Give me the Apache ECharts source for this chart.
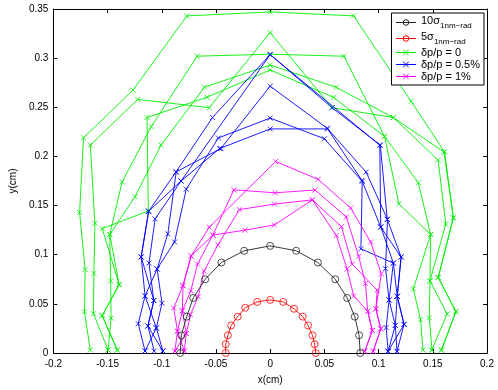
<!DOCTYPE html>
<html>
<head>
<meta charset="utf-8">
<script src="https://cdn.jsdelivr.net/npm/echarts@6/dist/echarts.min.js"></script>
<style>
  html, body { margin: 0; padding: 0; background: #fff; }
  #chart { width: 498px; height: 390px; }
</style>
</head>
<body>
<div id="chart"></div>
<script>
// tick labels
var xTicks = [-0.2, -0.15, -0.1, -0.05, 0, 0.05, 0.1, 0.15, 0.2];
var yTicks = [0, 0.05, 0.1, 0.15, 0.2, 0.25, 0.3, 0.35];

// 10 sigma and 5 sigma beam ellipses
var sigma10 = [[-0.083,0],[-0.082,0.018],[-0.077,0.037],[-0.071,0.056],[-0.060,0.075],[-0.045,0.092],[-0.024,0.104],
  [0,0.109],[0.024,0.104],[0.044,0.092],[0.060,0.075],[0.071,0.056],[0.078,0.037],[0.082,0.018],[0.083,0]];
var sigma5 = [[-0.041,0],[-0.041,0.009],[-0.039,0.018],[-0.036,0.028],[-0.030,0.037],[-0.023,0.046],[-0.012,0.052],
  [0,0.054],[0.012,0.052],[0.022,0.045],[0.030,0.037],[0.035,0.028],[0.039,0.018],[0.041,0.009],[0.042,0]];

// dp/p = 0 (one array per seed)
var green1 = [[-0.166,0.003],[-0.1713,0.042],[-0.1707,0.085],[-0.1758,0.143],[-0.1722,0.219],[-0.1265,0.2675],[-0.0768,0.343],
  [0,0.347],[0.077,0.343],[0.13,0.256],[0.1608,0.2048],[0.169,0.1375],[0.155,0.0769],[0.1713,0.0421],[0.158,0.003]];
var green2 = [[-0.1495,0.003],[-0.163,0.040],[-0.1626,0.081],[-0.1617,0.132],[-0.1659,0.2115],[-0.1222,0.258],[-0.0562,0.2496],
  [0,0.326],[0.057,0.2496],[0.1136,0.2396],[0.1549,0.1962],[0.162,0.1313],[0.1474,0.0733],[0.1632,0.0398],[0.149,0.003]];
var green3 = [[-0.141,0.003],[-0.155,0.038],[-0.1393,0.0696],[-0.1549,0.1266],[-0.1124,0.1445],[-0.1136,0.2396],[-0.0583,0.2602],
  [0,0.288],[0.0586,0.26],[0.1055,0.2204],[0.1366,0.1733],[0.148,0.1206],[0.132,0.0653],[0.1387,0.034],[0.141,0.003]];
var green4 = [[-0.1495,0.003],[-0.1468,0.0355],[-0.1471,0.0733],[-0.148,0.1206],[-0.1366,0.174],[-0.1097,0.2304],[-0.0673,0.302],
  [0,0.304],[0.068,0.302],[0.1055,0.2204],[0.1187,0.1518],[0.148,0.1206],[0.1474,0.0733],[0.1468,0.0358],[0.1492,0.003]];
var green5 = [[-0.1411,0.003],[-0.1549,0.038],[-0.1393,0.0696],[-0.148,0.1206],[-0.1247,0.159],[-0.1007,0.2115],[-0.0607,0.2704],
  [0,0.293],[0.0607,0.2704],[0.1136,0.2396],[0.1603,0.2045],[0.169,0.1375],[0.155,0.0769],[0.1713,0.0421],[0.158,0.003]];

// dp/p = 0.5%
var blue1 = [[-0.1154,0.002],[-0.1217,0.0298],[-0.1154,0.058],[-0.119,0.0977],[-0.1121,0.1442],[-0.087,0.184],[-0.0532,0.2396],
  [0,0.3036],[0.057,0.2496],[0.1016,0.2115],[0.108,0.136],[0.1208,0.0977],[0.1172,0.0577],[0.1235,0.0291],[0.117,0.0017]];
var blue2 = [[-0.107,0.002],[-0.1128,0.0275],[-0.1073,0.0534],[-0.1118,0.0915],[-0.1061,0.1365],[-0.0822,0.175],
  [0,0.3036],[0.1011,0.2115],[0.102,0.1283],[0.1136,0.0915],[0.1097,0.054],[0.1154,0.0281],[0.1088,0.0017]];
var blue3 = [[-0.099,0.002],[-0.105,0.0255],[-0.0998,0.0507],[-0.1043,0.0855],[-0.0944,0.1213],[-0.0867,0.1843],[-0.0455,0.208],
  [0,0.2715],[0.0526,0.2287],[0.0885,0.184],[0.1082,0.136],[0.1064,0.0858],[0.1097,0.054],[0.107,0.0259],[0.1088,0.0017]];
var blue4 = [[-0.1154,0.002],[-0.105,0.0255],[-0.1154,0.058],[-0.1043,0.0855],[-0.0882,0.113],[-0.0774,0.1667],[-0.0478,0.2188],
  [0,0.239],[0.050,0.218],[0.0849,0.1747],[0.0837,0.106],[0.1136,0.0915],[0.1172,0.0577],[0.1154,0.0281],[0.117,0.0017]];
var blue5 = [[-0.099,0.002],[-0.1128,0.0275],[-0.1073,0.0534],[-0.119,0.0977],[-0.1121,0.1442],[-0.0822,0.175],[-0.0466,0.208],
  [0,0.228],[0.053,0.228],[0.0846,0.1757],[0.102,0.128],[0.1208,0.0977],[0.1172,0.0577],[0.1235,0.0291],[0.1088,0.0017]];

// dp/p = 1%
var magenta1 = [[-0.0879,0.002],[-0.0855,0.0222],[-0.089,0.0457],[-0.0804,0.0686],[-0.0729,0.0987],[-0.0562,0.128],
  [0.005,0.1949],[0.0442,0.1767],[0.0742,0.1475],[0.0927,0.113],[0.1025,0.0805],[0.0975,0.045],[0.102,0.0246],[0.095,0.0017]];
var magenta2 = [[-0.0792,0.002],[-0.0774,0.0199],[-0.081,0.0428],[-0.0732,0.0633],[-0.067,0.0905],[-0.0529,0.12],[-0.0335,0.166],
  [0.0045,0.163],[0.0413,0.1658],[0.0702,0.1385],[0.0816,0.0984],[0.0879,0.0706],[0.09,0.0424],[0.0942,0.0229],[0.0873,0.0017]];
var magenta3 = [[-0.0879,0.002],[-0.0774,0.0199],[-0.0735,0.039],[-0.0664,0.0574],[-0.061,0.0832],[-0.0482,0.11],[-0.0284,0.1459],
  [0.0039,0.1515],[0.0389,0.1558],[0.0657,0.1286],[0.0756,0.0905],[0.0987,0.0639],[0.0975,0.045],[0.102,0.0246],[0.095,0.0017]];
var magenta4 = [[-0.0792,0.002],[-0.0855,0.0222],[-0.081,0.0428],[-0.0804,0.0686],[-0.0729,0.0987],[-0.0529,0.12],[-0.0233,0.125],
  [0.0039,0.1303],[0.0389,0.1558],[0.061,0.1196],[0.0709,0.0855],[0.0771,0.058],[0.09,0.0424],[0.0942,0.0229],[0.0873,0.0017]];

var CROSS = 'path://M0,0L10,10M0,10L10,0';

var legendText = {
  'sig10': '{m|10σ}{s|1nm−rad}',
  'sig5': '{m|5σ}{s|1nm−rad}',
  'dp0': '{m|δp/p = 0}',
  'dp05': '{m|δp/p = 0.5%}',
  'dp1': '{m|δp/p = 1%}'
};

function mkSeries(name, data, color, symbol, size) {
  var hollow = symbol === 'circle';
  return {
    name: name,
    type: 'line',
    data: data,
    symbol: symbol,
    symbolSize: size,
    showSymbol: true,
    lineStyle: { color: color, width: 0.9 },
    itemStyle: { color: hollow ? 'rgba(0,0,0,0)' : color, borderColor: color, borderWidth: 0.8 },
    emphasis: { disabled: true },
    animation: false
  };
}

var series = [];
[green1, green2, green3, green4, green5].forEach(function(d){ series.push(mkSeries('dp0', d, '#00ee00', CROSS, 5)); });
[blue1, blue2, blue3, blue4, blue5].forEach(function(d){ series.push(mkSeries('dp05', d, '#0000ff', CROSS, 5)); });
[magenta1, magenta2, magenta3, magenta4].forEach(function(d){ series.push(mkSeries('dp1', d, '#ff00ff', CROSS, 5)); });
series.push(mkSeries('sig10', sigma10, '#222222', 'circle', 7));
series.push(mkSeries('sig5', sigma5, '#ff0000', 'circle', 7));

function fmt(v) { return String(+v.toFixed(2)); }

var font = 'Liberation Sans, Arial, Helvetica, sans-serif';

var chart = echarts.init(document.getElementById('chart'));
chart.setOption({
  backgroundColor: '#fff',
  textStyle: { fontFamily: font },
  grid: { left: 41, right: 11, top: 9, bottom: 29, containLabel: false },
  legend: {
    data: ['sig10', 'sig5', 'dp0', 'dp05', 'dp1'],
    orient: 'vertical',
    right: 14,
    top: 13,
    backgroundColor: '#fff',
    borderColor: '#000',
    borderWidth: 1,
    borderRadius: 0,
    padding: [2, 4, 3, 4],
    itemGap: 1,
    itemWidth: 20,
    itemHeight: 7,
    selectedMode: false,
    lineStyle: { width: 1 },
    itemStyle: { borderWidth: 1 },
    formatter: function(name){ return legendText[name]; },
    textStyle: {
      color: '#000',
      fontFamily: font,
      rich: {
        m: { fontSize: 11, color: '#000', fontFamily: font, verticalAlign: 'top' },
        s: { fontSize: 8, color: '#000', fontFamily: font, verticalAlign: 'bottom', padding: [7, 0, 0, 0] }
      }
    }
  },
  xAxis: [{
    type: 'value', min: xTicks[0], max: xTicks[xTicks.length - 1], interval: 0.05,
    position: 'bottom',
    name: 'x(cm)', nameLocation: 'middle', nameGap: 22,
    nameTextStyle: { color: '#000', fontSize: 10, fontFamily: font },
    axisLine: { show: true, onZero: false, lineStyle: { color: '#000', width: 1 } },
    axisTick: { show: true, inside: true, length: 4, lineStyle: { color: '#000' } },
    axisLabel: { color: '#000', fontSize: 10, margin: 6, formatter: fmt },
    splitLine: { show: false }
  }, {
    type: 'value', min: xTicks[0], max: xTicks[xTicks.length - 1], interval: 0.05,
    position: 'top',
    axisLine: { show: true, onZero: false, lineStyle: { color: '#000', width: 1 } },
    axisTick: { show: true, inside: true, length: 4, lineStyle: { color: '#000' } },
    axisLabel: { show: false },
    splitLine: { show: false }
  }],
  yAxis: [{
    type: 'value', min: yTicks[0], max: yTicks[yTicks.length - 1], interval: 0.05,
    position: 'left',
    name: 'y(cm)', nameLocation: 'middle', nameGap: 33,
    nameTextStyle: { color: '#000', fontSize: 10, fontFamily: font },
    axisLine: { show: true, onZero: false, lineStyle: { color: '#000', width: 1 } },
    axisTick: { show: true, inside: true, length: 4, lineStyle: { color: '#000' } },
    axisLabel: { color: '#000', fontSize: 10, margin: 5, formatter: fmt },
    splitLine: { show: false }
  }, {
    type: 'value', min: yTicks[0], max: yTicks[yTicks.length - 1], interval: 0.05,
    position: 'right',
    axisLine: { show: true, onZero: false, lineStyle: { color: '#000', width: 1 } },
    axisTick: { show: true, inside: true, length: 4, lineStyle: { color: '#000' } },
    axisLabel: { show: false },
    splitLine: { show: false }
  }],
  series: series
});
</script>
</body>
</html>
